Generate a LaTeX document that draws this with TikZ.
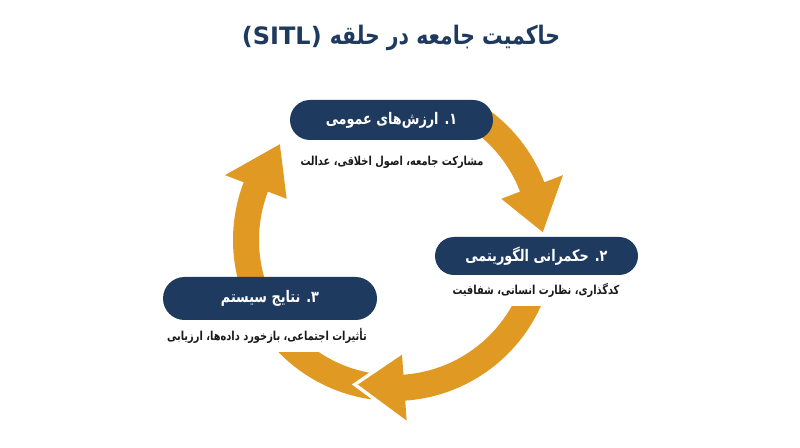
\documentclass[tikz,border=0pt]{standalone}
\usepackage{fontspec}
\TeXXeTstate=1
\newfontfamily\fa[Script=Arabic, FakeStretch=0.8]{DejaVu Sans}
\newfontfamily\la{DejaVu Sans}
\definecolor{navy}{HTML}{1E3A5F}
\definecolor{amber}{HTML}{E09A24}
\definecolor{ink}{HTML}{1A1A1A}
\tikzset{
  band/.style={draw=amber, line width=26pt},
  pill/.style={fill=navy, text=white, inner sep=0pt, font=\fontsize{16}{19}\selectfont\fa\bfseries},
  subtext/.style={fill=white, text=ink, inner xsep=4pt, inner ysep=0pt, font=\fontsize{12.3}{15}\selectfont\fa\bfseries},
}
\newcommand\arrowhd[2]{%
  \draw[white, line width=7pt, line join=miter] ([shift={(#1:115)}]C) -- ([shift={(#2:149)}]C) -- ([shift={(#1:181)}]C);
  \fill[amber] ([shift={(#1:115)}]C) -- ([shift={(#2:149)}]C) -- ([shift={(#1:181)}]C) -- cycle;}
\begin{document}
\begin{tikzpicture}[x=1pt,y=1pt]
\useasboundingbox (0,0) rectangle (800,447);
\fill[white] (0,0) rectangle (800,447);
\coordinate (C) at (394,207);
% arrow bands
\draw[band] ([shift={(262:148)}]C) arc[start angle=262, end angle=158, radius=148];
\draw[band] ([shift={(57:148)}]C) arc[start angle=57, end angle=20, radius=148];
\draw[band] ([shift={(-5:148)}]C) arc[start angle=-5, end angle=-87, radius=148];
% arrow heads
\arrowhd{21}{3}
\arrowhd{-86}{-104}
\arrowhd{159}{140}
% title
\node[text=navy, font=\bfseries] (title) at (401,409)
  {{\fontsize{24}{29}\selectfont\la (SITL)}\hspace{8pt}{\fontsize{25.5}{29}\selectfont\fa\beginR حاکمیت جامعه در حلقه\endR}};
% boxes
\node[pill, minimum width=203, minimum height=40, rounded corners=20] (b1) at (391.5,327)
  {\beginR ۱. ارزش‌های عمومی\endR};
\node[pill, minimum width=203, minimum height=38, rounded corners=19] (b2) at (536.5,191)
  {\beginR ۲. حکمرانی الگوریتمی\endR};
\node[pill, minimum width=214, minimum height=43, rounded corners=21.5] (b3) at (270,148.5)
  {\beginR ۳. نتایج سیستم\endR};
% sub texts
\node[subtext, minimum height=20] (t1) at (392,285) {\beginR مشارکت جامعه، اصول اخلاقی، عدالت\endR};
\node[subtext, minimum height=31] (t2) at (536,156.5) {\beginR کدگذاری، نظارت انسانی، شفافیت\endR};
\node[subtext, minimum height=32] (t3) at (267,111) {\beginR تأثیرات اجتماعی، بازخورد داده‌ها، ارزیابی\endR};
\end{tikzpicture}
\end{document}
